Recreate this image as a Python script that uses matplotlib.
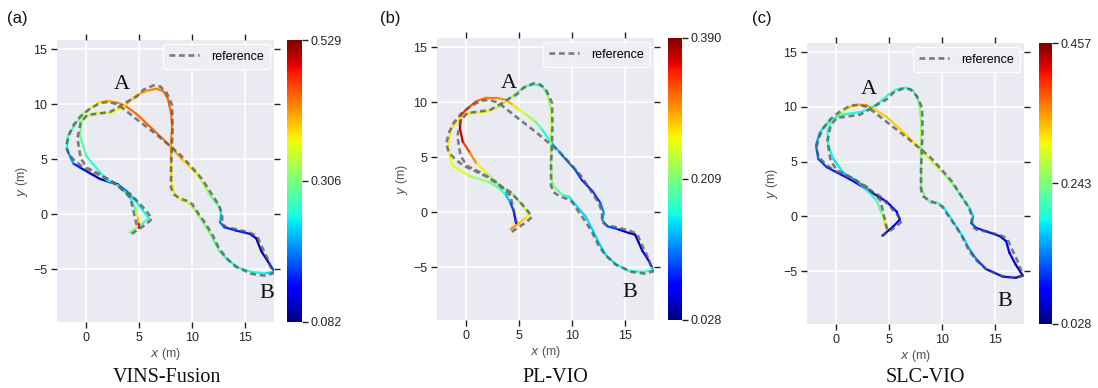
import numpy as np
import matplotlib
matplotlib.use("Agg")
import matplotlib.pyplot as plt
from matplotlib.collections import LineCollection
from matplotlib.cm import ScalarMappable
from matplotlib.colors import Normalize

# ---------------- data ----------------
ref_x = [4.3, 5.7, 6.2, 5.9, 5.1, 4.2, 3.2, 2.0, 0.7, -0.2, -1.0, -1.6, -1.85, -1.6, -1.16,
         -0.5, 0.4, 1.35, 2.1, 2.9, 3.5, 4.8, 6.67, 7.9, 8.86, 10.0, 10.9, 11.7, 12.5, 12.8,
         12.8, 13.2, 14.2, 15.4, 16.1, 16.4, 17.0, 17.6, 16.8, 15.6, 14.1, 13.2, 12.5, 11.9,
         11.2, 10.6, 10.0, 9.5, 8.86, 8.24, 8.0, 8.0, 8.08, 8.14, 8.1, 7.6, 7.0, 6.35, 5.4,
         4.8, 4.2, 3.2, 2.3, 1.66, 0.1, -0.5, -0.8, -0.5, 0.1, 1.35, 2.9, 4.17, 4.82]
ref_y = [-1.8, -0.9, -0.45, 0.0, 0.9, 1.8, 2.4, 3.2, 3.8, 4.2, 4.8, 5.4, 6.2, 7.2, 8.1,
         8.9, 9.6, 10.1, 10.2, 10.0, 9.6, 8.6, 7.2, 6.2, 5.4, 4.2, 3.2, 2.0, 0.8, 0.0,
         -0.9, -1.2, -1.4, -1.7, -2.0, -2.7, -3.9, -5.4, -5.6, -5.45, -4.8, -4.0, -3.1, -1.9,
         -0.8, 0.0, 0.9, 1.2, 1.4, 1.8, 2.4, 4.2, 6.0, 7.8, 9.9, 11.0, 11.6, 11.7, 11.3,
         10.7, 10.4, 9.8, 9.3, 9.2, 9.0, 8.3, 6.9, 5.1, 4.2, 3.6, 2.7, 1.5, -1.2]

vins_x = [4.1, 5.0, 5.9, 5.3, 4.6, 3.8, 3.0, 2.25, 1.3, 0.4, -0.5, -1.2, -1.8, -1.7, -0.9,
          -0.25, 0.4, 1.2, 1.9, 2.9, 3.7, 4.75, 6.3, 7.9, 9.1, 10.4, 11.0, 11.6, 12.56, 12.7,
          12.6, 13.0, 14.1, 15.4, 16.0, 16.5, 17.1, 17.56, 17.7, 16.9, 15.7, 14.4, 13.5, 12.56,
          11.9, 11.3, 10.7, 10.06, 9.44, 8.97, 8.34, 8.03, 8.0, 8.0, 8.1, 8.0, 7.7, 7.25, 6.6,
          5.7, 4.75, 3.8, 3.0, 2.25, 1.0, 0.06, -0.4, -0.56, 0.06, 1.94, 3.0, 3.7, 4.3, 4.7,
          4.9, 4.95, 4.95]
vins_y = [-1.7, -1.1, -0.4, 0.4, 1.3, 2.1, 2.7, 2.9, 3.2, 3.7, 4.2, 4.6, 5.9, 7.1, 8.3,
          9.1, 9.6, 10.15, 10.3, 10.15, 9.85, 9.1, 7.7, 6.2, 4.9, 3.7, 2.8, 1.8, 0.6, 0.0,
          -0.74, -1.2, -1.5, -1.8, -2.2, -3.4, -4.3, -5.0, -5.25, -5.4, -5.3, -4.9, -4.3, -3.4,
          -2.2, -1.2, -0.3, 0.6, 1.2, 1.2, 1.8, 3.0, 4.9, 6.5, 8.0, 9.2, 10.5, 11.2, 11.4,
          11.2, 10.8, 10.0, 9.5, 9.2, 9.2, 8.9, 8.5, 7.1, 5.25, 3.1, 2.6, 2.0, 1.3, 0.3,
          -0.4, -0.9, -1.3]
vins_err = [0.31, 0.30, 0.26, 0.25, 0.24, 0.21, 0.15, 0.10, 0.10, 0.11, 0.14, 0.17, 0.24, 0.26, 0.29,
            0.31, 0.34, 0.37, 0.40, 0.42, 0.43, 0.44, 0.44, 0.43, 0.40, 0.37, 0.34, 0.31, 0.28, 0.25,
            0.21, 0.16, 0.15, 0.14, 0.10, 0.09, 0.10, 0.14, 0.22, 0.25, 0.25, 0.25, 0.26, 0.28,
            0.30, 0.31, 0.32, 0.33, 0.35, 0.36, 0.37, 0.38, 0.40, 0.42, 0.43, 0.44, 0.44, 0.43, 0.43,
            0.42, 0.40, 0.39, 0.37, 0.36, 0.36, 0.34, 0.31, 0.30, 0.27, 0.25, 0.24, 0.24, 0.25, 0.30,
            0.37, 0.44, 0.52]

plvio_x = [4.2, 5.0, 5.6, 5.94, 5.3, 4.5, 3.5, 2.8, 1.9, 0.94, 0.3, -0.3, -0.56, -0.47, 0.0,
           0.94, 1.9, 2.8, 3.75, 4.4, 5.0, 5.6, 6.56, 7.2, 7.97, 9.06, 10.3, 10.9, 11.9, 12.66,
           12.97, 12.8, 13.3, 14.4, 15.3, 15.9, 16.25, 16.6, 17.2, 17.5, 17.56, 16.6, 15.3, 14.1,
           13.1, 12.5, 11.9, 11.25, 10.3, 9.7, 9.06, 8.28, 8.06, 7.97, 7.97, 8.06, 7.97, 7.66,
           7.2, 6.56, 5.6, 4.7, 3.75, 2.8, 1.9, 0.3, -0.6, -1.4, -1.7, -1.25, 0.3, 2.2, 3.1,
           3.75, 4.2, 4.5, 4.7]
plvio_y = [-1.55, -1.0, -0.55, -0.3, 0.6, 1.5, 2.2, 2.7, 3.6, 4.5, 5.5, 6.4, 7.6, 8.8, 9.3,
           10.06, 10.4, 10.4, 10.2, 9.75, 9.3, 8.9, 8.2, 7.45, 6.4, 5.15, 3.8, 2.9, 1.9, 0.8,
           -0.1, -0.7, -1.3, -1.6, -1.9, -2.05, -2.8, -3.55, -4.45, -5.05, -5.3, -5.45, -5.35, -4.75,
           -3.85, -2.8, -1.6, -0.4, 0.66, 1.4, 1.57, 2.3, 2.9, 4.85, 6.4, 7.9, 9.45, 10.67,
           11.44, 11.6, 11.44, 10.8, 10.06, 9.45, 9.14, 9.0, 8.5, 7.6, 5.8, 4.2, 3.3, 2.7, 2.2,
           1.57, 0.8, 0.06, -1.0]
plvio_err = [0.31, 0.29, 0.27, 0.26, 0.22, 0.21, 0.21, 0.21, 0.24, 0.29, 0.32, 0.35, 0.385, 0.36, 0.33,
             0.32, 0.31, 0.31, 0.30, 0.28, 0.26, 0.24, 0.21, 0.18, 0.15, 0.13, 0.10, 0.09, 0.09, 0.10,
             0.14, 0.14, 0.12, 0.08, 0.05, 0.04, 0.04, 0.05, 0.08, 0.10, 0.18, 0.17, 0.17, 0.16,
             0.15, 0.15, 0.15, 0.15, 0.15, 0.16, 0.18, 0.21, 0.22, 0.21, 0.22, 0.24, 0.23, 0.21,
             0.18, 0.17, 0.20, 0.21, 0.22, 0.24, 0.26, 0.27, 0.27, 0.27, 0.26, 0.26, 0.24, 0.21, 0.20,
             0.16, 0.12, 0.08, 0.05]

slc_x = [4.375, 5.4, 6.0, 5.7, 4.75, 3.5, 2.25, 1.3, 0.375, -0.875, -1.66, -1.875, -1.5, -0.72, 0.06,
         0.69, 1.3, 2.25, 2.875, 3.5, 4.75, 6.0, 7.25, 8.0, 9.1, 10.06, 11.0, 11.6, 12.56, 12.9,
         12.7, 13.2, 14.1, 15.4, 16.0, 16.3, 16.9, 17.56, 16.9, 15.7, 14.1, 13.2, 12.56, 11.9,
         11.3, 10.7, 10.06, 9.6, 8.97, 8.34, 8.03, 8.03, 7.97, 8.03, 8.03, 7.8, 7.25, 6.6, 5.7,
         4.9, 3.97, 3.19, 2.4, 1.3, 0.375, -0.4, -0.78, -0.72, -0.25, 0.69, 1.94, 2.875, 3.8,
         4.3, 4.6, 4.75]
slc_y = [-1.75, -0.9, -0.3, 0.45, 1.36, 2.1, 2.86, 3.4, 3.87, 4.5, 5.25, 6.5, 7.7, 8.6, 9.1,
         9.54, 10.0, 10.2, 10.15, 9.85, 9.1, 8.0, 6.8, 6.0, 4.9, 4.0, 2.9, 2.1, 0.75, 0.0,
         -0.6, -1.05, -1.35, -1.8, -2.26, -3.3, -4.4, -5.4, -5.6, -5.5, -4.8, -3.9, -3.0, -1.8,
         -0.9, 0.0, 0.9, 1.2, 1.2, 1.8, 2.7, 3.1, 5.25, 6.8, 8.6, 10.46, 11.5, 11.75, 11.6,
         11.1, 10.3, 9.85, 9.54, 9.4, 9.23, 8.8, 7.85, 6.47, 5.25, 4.0, 3.25, 2.4, 1.5,
         0.3, -0.6, -1.15]
slc_err = [0.05, 0.06, 0.08, 0.08, 0.08, 0.07, 0.06, 0.08, 0.09, 0.10, 0.12, 0.13, 0.17, 0.19, 0.23,
           0.28, 0.31, 0.34, 0.36, 0.33, 0.32, 0.33, 0.31, 0.30, 0.29, 0.27, 0.24, 0.22, 0.19, 0.17,
           0.13, 0.10, 0.09, 0.08, 0.08, 0.07, 0.05, 0.04, 0.07, 0.08, 0.09, 0.12, 0.16, 0.18,
           0.18, 0.18, 0.19, 0.21, 0.23, 0.24, 0.24, 0.24, 0.25, 0.25, 0.26, 0.24, 0.21, 0.19, 0.21,
           0.21, 0.20, 0.19, 0.19, 0.19, 0.21, 0.22, 0.21, 0.19, 0.18, 0.18, 0.17, 0.18, 0.21,
           0.24, 0.30, 0.33]

err_ranges = [(0.082, 0.529), (0.028, 0.390), (0.028, 0.457)]
cbar_ticks = [[0.082, 0.306, 0.529], [0.028, 0.209, 0.390], [0.028, 0.243, 0.457]]
panel_tags = ["(a)", "(b)", "(c)"]
captions = ["VINS-Fusion", "PL-VIO", "SLC-VIO"]
xticks = [0, 5, 10, 15]
yticks = [-5, 0, 5, 10, 15]

# ---------------- figure ----------------
W, H = 1098, 388
fig = plt.figure(figsize=(W / 100, H / 100), dpi=100)
fig.patch.set_facecolor("white")
plt.rcParams["font.family"] = ["Liberation Sans", "DejaVu Sans"]

def box(l, r, t, b):
    return [l / W, 1 - b / H, (r - l) / W, (b - t) / H]

ax_boxes = [box(57, 274, 40, 322), box(437, 654, 38, 320), box(807, 1024, 43, 324)]
cb_boxes = [box(287, 302, 40, 322), box(668, 682, 38, 320), box(1039, 1052, 43, 324)]
A_pos = [(3.4, 11.8), (4.0, 11.7), (3.06, 11.6)]
B_pos = [(16.97, -7.2), (15.44, -7.36), (15.9, -7.8)]
tag_px = [(7, 19), (380, 19), (752, 19)]
cap_px = [167, 555, 925]

est = [(vins_x, vins_y, vins_err), (plvio_x, plvio_y, plvio_err), (slc_x, slc_y, slc_err)]
cmap = plt.get_cmap("jet")
tick_col = "#262626"

for i in range(3):
    ax = fig.add_axes(ax_boxes[i])
    ax.set_facecolor("#EAEAF2")
    for s in ax.spines.values():
        s.set_visible(False)
    ax.set_xlim(-2.72, 17.68)
    ax.set_ylim(-9.82, 15.83)
    ax.set_xticks(xticks)
    ax.set_yticks(yticks)
    ax.grid(True, color="white", lw=1.1)
    ax.set_axisbelow(True)
    ax.tick_params(direction="out", length=4, width=1, color="#222222",
                   top=True, right=True, labelsize=9, labelcolor=tick_col, pad=3)
    ax.set_xlabel("$x$ (m)", fontsize=9, color="#555555", labelpad=2)
    ax.set_ylabel("$y$ (m)", fontsize=9, color="#555555", labelpad=2)

    vmin, vmax = err_ranges[i]
    norm = Normalize(vmin, vmax)
    xs, ys, es = est[i]
    pts = np.column_stack([xs, ys])
    segs = np.stack([pts[:-1], pts[1:]], axis=1)
    es = np.asarray(es)
    segc = 0.5 * (es[:-1] + es[1:])
    lc = LineCollection(segs, cmap=cmap, norm=norm, linewidths=1.6, capstyle="round",
                        joinstyle="round", zorder=3)
    lc.set_array(segc)
    ax.add_collection(lc)

    ax.plot(ref_x, ref_y, color="#555555", alpha=0.75, lw=1.9,
            linestyle=(0, (2.2, 1.4)), label="reference", zorder=4)

    leg = ax.legend(loc="upper right", fontsize=9, frameon=True, handlelength=2.4,
                    borderpad=0.5, borderaxespad=0.35, handletextpad=0.9)
    leg.get_frame().set_facecolor("#EEEEF3")
    leg.get_frame().set_edgecolor("white")
    leg.get_frame().set_alpha(0.9)

    ax.text(*A_pos[i], "A", fontsize=16, family="Liberation Serif", ha="center", va="center",
            color="#111111", zorder=5)
    ax.text(*B_pos[i], "B", fontsize=16, family="Liberation Serif", ha="center", va="center",
            color="#111111", zorder=5)

    cax = fig.add_axes(cb_boxes[i])
    cb = fig.colorbar(ScalarMappable(norm=norm, cmap=cmap), cax=cax,
                      ticks=cbar_ticks[i], format="%.3f")
    cb.outline.set_visible(False)
    cax.tick_params(direction="out", length=4, width=1, color="#222222",
                    labelsize=9, labelcolor=tick_col, pad=2)

    fig.text(tag_px[i][0] / W, 1 - tag_px[i][1] / H, panel_tags[i], fontsize=12,
             family="Liberation Sans", ha="left", va="center", color="#111111")
    fig.text(cap_px[i] / W, 1 - 378 / H, captions[i], fontsize=14.5,
             family="Liberation Serif", ha="center", va="center", color="#111111")

fig.savefig("out.png", dpi=100, facecolor="white")
